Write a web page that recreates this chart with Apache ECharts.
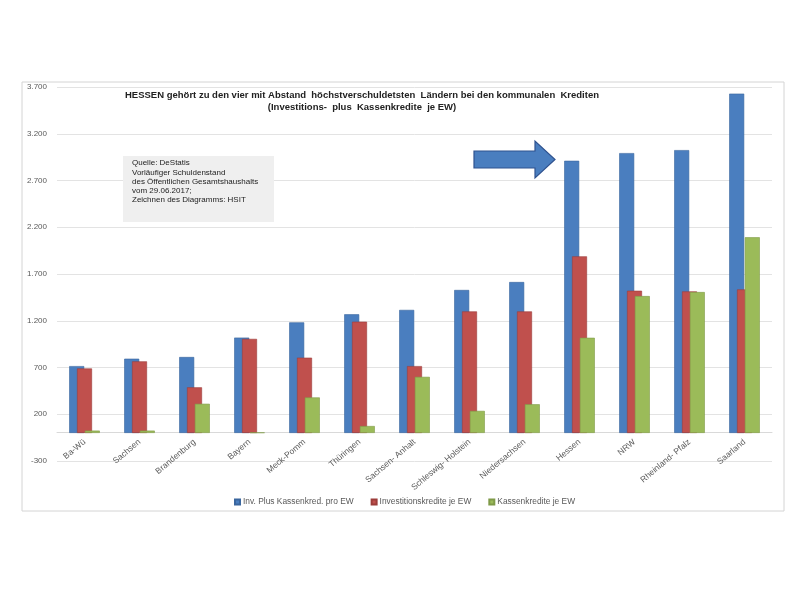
<!DOCTYPE html>
<html>
<head>
<meta charset="utf-8">
<script src="https://cdn.jsdelivr.net/npm/echarts@6/dist/echarts.min.js"></script>
<style>
  html, body { margin: 0; padding: 0; background: #fff; }
  #main { width: 800px; height: 601px; }
</style>
</head>
<body>
<div id="main"></div>
<script>
// Länder (Reihenfolge wie im Diagramm)
var laender = ['Ba-Wü', 'Sachsen', 'Brandenburg', 'Bayern', 'Meck-Pomm', 'Thüringen', 'Sachsen- Anhalt',
    'Schleswig- Holstein', 'Niedersachsen', 'Hessen', 'NRW', 'Rheinland- Pfalz', 'Saarland'];

// Werte je EW
var invPlusKassen = [715, 794, 812, 1020, 1183, 1269, 1316, 1529, 1614, 2911, 2993, 3025, 3629];
var investKredite = [690, 766, 488, 1006, 805, 1190, 715, 1300, 1300, 1889, 1521, 1514, 1535];
var kassenKredite = [25, 25, 312, 5, 380, 74, 600, 236, 307, 1018, 1464, 1507, 2093];

var serienNamen = ['Inv. Plus Kassenkred. pro EW', 'Investitionskredite je EW', 'Kassenkredite je EW'];

var titelZeilen = [
    'HESSEN gehört zu den vier mit Abstand  höchstverschuldetsten  Ländern bei den kommunalen  Krediten',
    '(Investitions-  plus  Kassenkredite  je EW)'
];
var quelleZeilen = [
    'Quelle: DeStatis',
    'Vorläufiger Schuldenstand',
    'des Öffentlichen Gesamtshaushalts',
    'vom 29.06.2017;',
    'Zeichnen des Diagramms: HSIT'
];

var myChart = echarts.init(document.getElementById('main'));

function tausender(v) {
    var s = String(Math.abs(v)).replace(/\B(?=(\d{3})+(?!\d))/g, '.');
    return (v < 0 ? '-' : '') + s;
}

function balken(name, daten, farbe, rand) {
    return {
        name: name,
        type: 'bar',
        data: daten,
        barWidth: 15,
        barGap: '-48%',
        itemStyle: { color: farbe, borderColor: rand, borderWidth: 0.6 }
    };
}

var graphics = [
    {   // Rahmen
        type: 'rect', silent: true, z: -1,
        shape: { x: 22, y: 82, width: 762, height: 429 },
        style: { fill: null, stroke: '#d4d4d4', lineWidth: 1 }
    },
    {
        type: 'text', x: 362, y: 89, z: 100,
        style: {
            text: titelZeilen.join('\n'), textAlign: 'center', fill: '#222',
            font: 'bold 9.5px Liberation Sans, Arial, sans-serif', lineHeight: 12
        }
    },
    {   // Quellenkasten
        type: 'rect', silent: true, z: 100,
        shape: { x: 123, y: 156, width: 151, height: 66 },
        style: { fill: '#efefef' }
    },
    {   // Pfeil auf Hessen
        type: 'polygon', z: 100,
        shape: { points: [[474, 151], [535, 151], [535, 141], [555, 159.5], [535, 178], [535, 168], [474, 168]] },
        style: { fill: '#4a7ebf', stroke: '#2f528f', lineWidth: 1.2 }
    }
];
quelleZeilen.forEach(function (zeile, i) {
    graphics.push({
        type: 'text', x: 132, y: 159 + i * 9.3, z: 101,
        style: { text: zeile, fill: '#222', font: '8px Liberation Sans, Arial, sans-serif' }
    });
});

var option = {
    backgroundColor: '#fff',
    animation: false,
    textStyle: { fontFamily: 'Liberation Sans, Arial, sans-serif' },
    grid: { left: 57, right: 28, top: 87, bottom: 140 },
    legend: {
        data: serienNamen,
        left: 229,
        top: 493,
        icon: 'rect',
        itemWidth: 5,
        itemHeight: 5,
        itemGap: 17,
        textStyle: { fontSize: 8.4, color: '#595959', padding: [0, 0, 0, -2] }
    },
    xAxis: {
        type: 'category',
        data: laender,
        offset: -29,
        axisLine: { onZero: false, lineStyle: { color: '#d9d9d9' } },
        axisTick: { show: false },
        axisLabel: { rotate: 40, fontSize: 8.5, color: '#595959', margin: 9, interval: 0 }
    },
    yAxis: {
        type: 'value',
        min: -300,
        max: 3700,
        interval: 500,
        axisLine: { show: false },
        axisTick: { show: false },
        splitLine: { lineStyle: { color: '#e3e3e3' } },
        axisLabel: { fontSize: 8, color: '#595959', margin: 10, formatter: tausender }
    },
    series: [
        balken(serienNamen[0], invPlusKassen, '#4a7ebf', '#3a669e'),
        balken(serienNamen[1], investKredite, '#c0504d', '#9c3d3a'),
        balken(serienNamen[2], kassenKredite, '#9bbb59', '#7f9a48')
    ],
    graphic: graphics
};

myChart.setOption(option);
</script>
</body>
</html>
